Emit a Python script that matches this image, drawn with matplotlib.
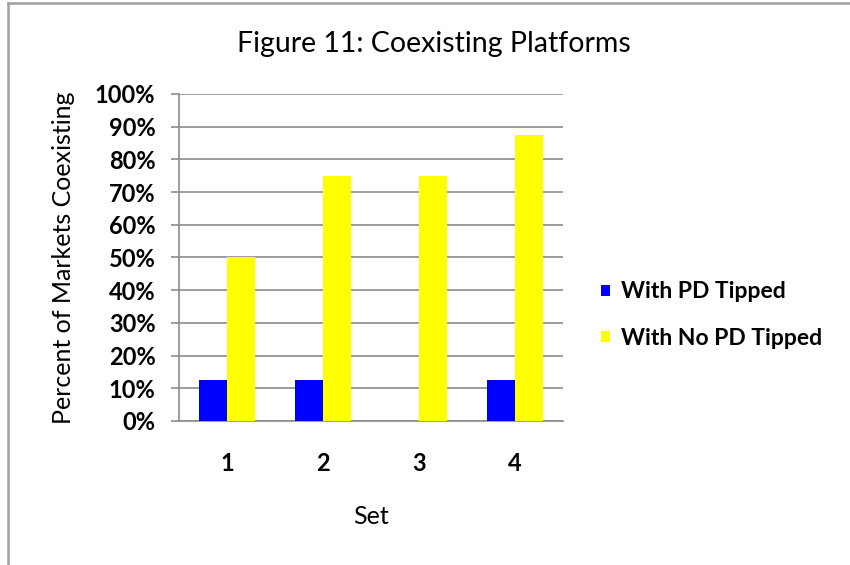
import numpy as np
import matplotlib.pyplot as plt
from matplotlib.lines import Line2D
from matplotlib.ticker import FuncFormatter

sets = ['1', '2', '3', '4']
pd_tipped = [12.5, 12.5, 0, 12.5]
no_pd_tipped = [50, 75, 75, 87.5]
labels = ['With PD Tipped', 'With No PD Tipped']

plt.rcParams['font.family'] = ['Lato', 'DejaVu Sans']

fig = plt.figure(figsize=(8.5, 5.65), dpi=100)
ax = fig.add_axes([0.2106, 0.2549, 0.4518, 0.5788])

x = np.arange(len(sets))
w = 0.29
ax.bar(x - w / 2, pd_tipped, w, color='#0000ff', label=labels[0], zorder=3)
ax.bar(x + w / 2, no_pd_tipped, w, color='#ffff00', label=labels[1], zorder=3)

ax.set_xlim(-0.5, len(sets) - 0.5)
ax.set_ylim(0, 100)
ax.set_yticks(np.arange(0, 101, 10))
ax.yaxis.set_major_formatter(FuncFormatter(lambda v, p: f'{int(v)}%'))
ax.set_xticks(x)
ax.set_xticklabels(sets)

for lab in ax.get_yticklabels() + ax.get_xticklabels():
    lab.set_fontweight('bold')
    lab.set_fontsize(17)

ax.grid(axis='y', color='#8c8c8c', linewidth=1.2, zorder=0)
ax.tick_params(axis='y', length=6, width=1.2, color='#8c8c8c', pad=11)
ax.tick_params(axis='x', length=0, pad=22)
for s in ['top', 'right']:
    ax.spines[s].set_visible(False)
ax.spines['left'].set_color('#8c8c8c')
ax.spines['left'].set_linewidth(1.2)
ax.spines['bottom'].set_color('#8c8c8c')
ax.spines['bottom'].set_linewidth(1.2)

ax.set_xlabel('Set', fontsize=18, labelpad=22)
ax.set_ylabel('Percent of Markets Coexisting', fontsize=18, labelpad=14)
fig.text(434 / 850, 1 - 44 / 565, 'Figure 11: Coexisting Platforms',
         fontsize=20.5, ha='center', va='center')

fig.legend(loc='center left', bbox_to_anchor=(601 / 850, 1 - 315 / 565),
           frameon=False, borderpad=0, borderaxespad=0,
           handlelength=0.38, handleheight=0.38,
           handletextpad=0.5, labelspacing=1.1,
           prop={'weight': 'bold', 'size': 16.5})

# chart frame edges
fig.add_artist(Line2D([7.5 / 850, 1], [1 - 2.5 / 565] * 2, color='#a0a0a0', lw=1.8))
fig.add_artist(Line2D([7.5 / 850] * 2, [0, 1 - 2.5 / 565], color='#a0a0a0', lw=1.8))

fig.savefig('out.png', dpi=100)
